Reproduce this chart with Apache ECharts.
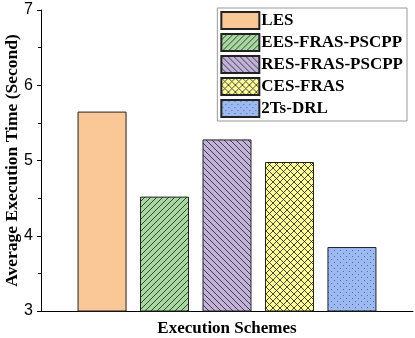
<!DOCTYPE html>
<html>
<head>
<meta charset="utf-8">
<script src="https://cdn.jsdelivr.net/npm/echarts@6/dist/echarts.min.js"></script>
<style>
html,body{margin:0;padding:0;background:#fff;}
#main{width:415px;height:338px;}
</style>
</head>
<body>
<div id="main"></div>
<script>
var schemes = ['LES', 'EES-FRAS-PSCPP', 'RES-FRAS-PSCPP', 'CES-FRAS', '2Ts-DRL'];
var times = [5.65, 4.52, 5.28, 4.98, 3.85];
var fills = ['#F9C896', '#A6D89F', '#C2B2DA', '#FFFF99', '#9DB9F2'];
var hatch = ['none', 'fwd', 'back', 'cross', 'dots'];
var yTicks = [3, 7, 1];

// fill patterns drawn on a small canvas
function makePattern(bg, kind) {
    var s = kind == 'dots' ? 6 : (kind == 'cross' ? 7 : 6);
    var c = document.createElement('canvas');
    c.width = s; c.height = s;
    var g = c.getContext('2d');
    g.fillStyle = bg;
    g.fillRect(0, 0, s, s);
    g.strokeStyle = 'rgba(30,30,30,0.8)';
    g.lineWidth = 1;
    function line(x1, y1, x2, y2) {
        g.beginPath(); g.moveTo(x1, y1); g.lineTo(x2, y2); g.stroke();
    }
    if (kind == 'fwd' || kind == 'cross') {
        line(-1, s + 1, s + 1, -1);
        line(-1, 1, 1, -1);
        line(s - 1, s + 1, s + 1, s - 1);
    }
    if (kind == 'back' || kind == 'cross') {
        line(-1, -1, s + 1, s + 1);
        line(s - 1, -1, s + 1, 1);
        line(-1, s - 1, 1, s + 1);
    }
    if (kind == 'dots') {
        g.fillStyle = 'rgba(50,70,120,0.7)';
        g.fillRect(1, 1, 1, 1);
        g.fillRect(4, 4, 1, 1);
    }
    if (kind == 'none') return bg;
    return { image: c, repeat: 'repeat' };
}

var series = schemes.map(function (name, i) {
    return {
        name: name,
        type: 'bar',
        data: [times[i]],
        barWidth: 49,
        barGap: '27.5%',
        itemStyle: {
            color: makePattern(fills[i], hatch[i]),
            borderColor: '#222',
            borderWidth: 1
        }
    };
});

var chart = echarts.init(document.getElementById('main'));
chart.setOption({
    animation: false,
    grid: { left: 41, right: 2, top: 10, bottom: 27, outerBoundsMode: 'none', containLabel: false },
    legend: {
        orient: 'vertical',
        right: 8,
        top: 8,
        data: schemes,
        icon: 'rect',
        itemWidth: 38,
        itemHeight: 17,
        itemGap: 3,
        padding: [3, 4, 3, 3],
        borderColor: '#999',
        borderWidth: 1,
        textStyle: { fontFamily: 'Liberation Serif', fontWeight: 'bold', fontSize: 17, color: '#000', padding: [0, 0, 0, -3] }
    },
    xAxis: {
        type: 'category',
        data: ['Execution Schemes'],
        name: 'Execution Schemes',
        nameLocation: 'middle',
        nameGap: 9,
        nameMoveOverlap: false,
        nameTextStyle: { fontFamily: 'Liberation Serif', fontWeight: 'bold', fontSize: 17, color: '#000' },
        axisLine: { lineStyle: { color: '#000', width: 1 } },
        axisTick: { alignWithLabel: true, length: 4, lineStyle: { color: '#000' } },
        axisLabel: { show: false }
    },
    yAxis: {
        type: 'value',
        min: yTicks[0],
        max: yTicks[1],
        interval: yTicks[2],
        name: 'Average Execution Time (Second)',
        nameLocation: 'middle',
        nameGap: 20,
        nameMoveOverlap: false,
        nameTextStyle: { fontFamily: 'Liberation Serif', fontWeight: 'bold', fontSize: 17.5, color: '#000' },
        axisLine: { show: true, lineStyle: { color: '#000', width: 1 } },
        axisTick: { show: true, length: 4, lineStyle: { color: '#000' } },
        minorTick: { show: true, splitNumber: 2, length: 3, lineStyle: { color: '#000' } },
        splitLine: { show: false },
        axisLabel: { fontFamily: 'Liberation Sans', fontSize: 16, color: '#000', margin: 8 }
    },
    series: series
});
</script>
</body>
</html>
